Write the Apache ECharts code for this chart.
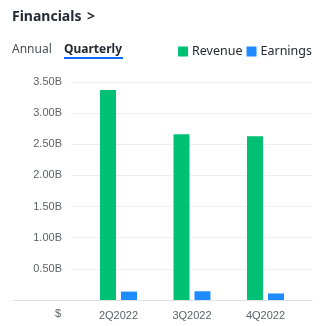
<!DOCTYPE html>
<html><head><meta charset="utf-8">
<script src="https://cdn.jsdelivr.net/npm/echarts@6/dist/echarts.min.js"></script>
<style>html,body{margin:0;padding:0;background:#fff}#c{width:322px;height:326px}</style>
</head><body><div id="c"></div>
<script>
const categories = ['2Q2022', '3Q2022', '4Q2022'];
const revenue = [3.37e9, 2.66e9, 2.63e9];
const earnings = [0.135e9, 0.14e9, 0.105e9];
const yTicks = [0, 0.5e9, 1.0e9, 1.5e9, 2.0e9, 2.5e9, 3.0e9, 3.5e9];

const chart = echarts.init(document.getElementById('c'), null, {renderer: 'canvas'});
const lab = '#5b636a';
const fam = 'Liberation Sans, Arial, sans-serif';
chart.setOption({
  animation: false,
  textStyle: {fontFamily: fam},
  legend: {
    top: 40, right: 5, itemWidth: 10, itemHeight: 10, icon: 'rect', itemGap: 4,
    textStyle: {fontSize: 12.5, color: '#232a31', fontFamily: 'Noto Sans, sans-serif', padding: [0, 0, 0, -1]},
    data: ['Revenue', 'Earnings']
  },
  graphic: [
    {type: 'text', left: 12, top: 10, style: {text: 'Financials', font: 'bold 14px Noto Sans', fill: '#232a31'}},
    {type: 'text', left: 87, top: 10, style: {text: '>', font: 'bold 14px Noto Sans', fill: '#232a31'}},
    {type: 'text', left: 12, top: 44, style: {text: 'Annual', font: '12px Noto Sans', fill: '#464e56'}},
    {type: 'text', left: 64, top: 44, style: {text: 'Quarterly', font: 'bold 12px Noto Sans', fill: '#232a31'}},
    {type: 'rect', shape: {x: 64, y: 57, width: 59, height: 2}, style: {fill: '#0f69ff'}},
    {type: 'text', left: 55, top: 308, style: {text: '$', font: '11px ' + fam, fill: lab}}
  ],
  grid: [
    {left: 71, right: 10, top: 82, bottom: 26},
    {left: 13, right: 10, top: 82, bottom: 26},
    {left: 81.75, right: 19.75, top: 82, bottom: 26}
  ],
  xAxis: [
    {gridIndex: 0, type: 'category', data: categories, show: false},
    {gridIndex: 1, type: 'category', data: categories, axisLine: {show: true, lineStyle: {color: '#dfe3e8', width: 1}}, axisTick: {show: false}, axisLabel: {show: false}, z: 5},
    {gridIndex: 2, type: 'category', data: categories, axisLine: {show: false}, axisTick: {show: false},
     axisLabel: {color: lab, fontSize: 11, margin: 10, fontFamily: fam}}
  ],
  yAxis: [
    {gridIndex: 0, type: 'value', min: 0, max: 3.5e9, interval: 0.5e9,
     axisLine: {show: false}, axisTick: {show: false},
     splitLine: {lineStyle: {color: '#eceef1', width: 1}},
     axisLabel: {color: lab, fontSize: 11, margin: 9, fontFamily: fam,
       formatter: v => (v === 0 ? '' : (yTicks.indexOf(v) >= 0 ? (v / 1e9).toFixed(2) + 'B' : ''))}},
    {gridIndex: 1, type: 'value', min: 0, max: 1, show: false},
    {gridIndex: 2, type: 'value', min: 0, max: 3.5e9, show: false}
  ],
  series: [
    {name: 'Revenue', type: 'bar', xAxisIndex: 2, yAxisIndex: 2, data: revenue, barWidth: 16, barGap: '31%', itemStyle: {color: '#00c073'}},
    {name: 'Earnings', type: 'bar', xAxisIndex: 2, yAxisIndex: 2, data: earnings, barWidth: 16, barGap: '31%', itemStyle: {color: '#1e8bff'}}
  ]
});
</script></body></html>
